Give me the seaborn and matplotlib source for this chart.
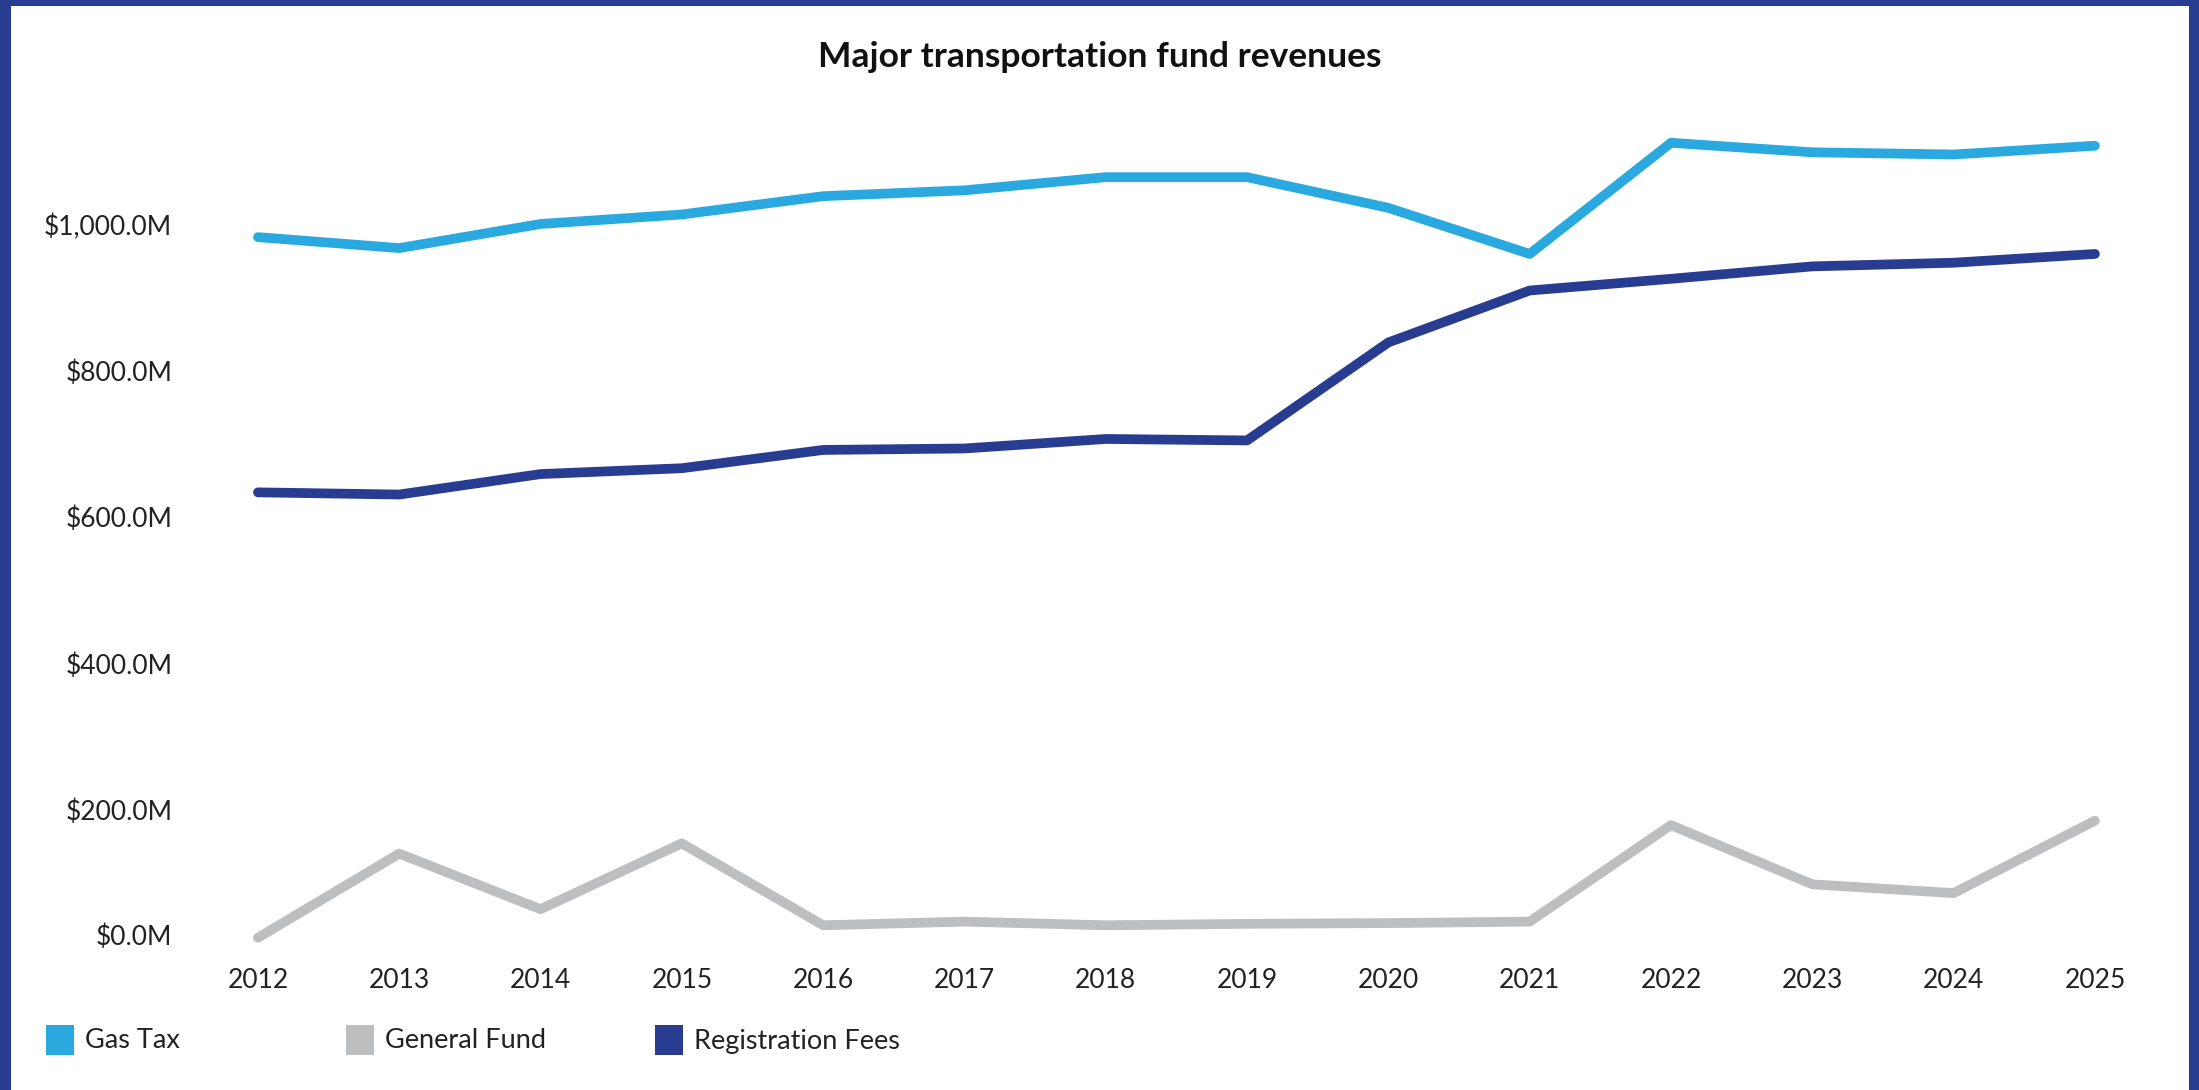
import matplotlib
matplotlib.use("Agg")
import matplotlib.pyplot as plt
import matplotlib.transforms as mtransforms
from matplotlib.patches import Rectangle
import seaborn as sns
import pandas as pd

# ---- data ----
years = list(range(2012, 2026))
gas_tax = [983, 968, 1001, 1014, 1039, 1047, 1065, 1065, 1023, 960, 1112, 1099, 1096, 1108]
general_fund = [25, 140, 64, 154, 42, 47, 42, 44, 45, 47, 179, 98, 86, 185]
registration_fees = [634, 631, 659, 667, 692, 694, 707, 705, 839, 910, 926, 943, 948, 960]
series_names = ["Gas Tax", "General Fund", "Registration Fees"]
series_colors = ["#29A9E0", "#BDBEC0", "#283D91"]
y_ticks = [0, 200, 400, 600, 800, 1000]
title = "Major transportation fund revenues"

df = pd.DataFrame({
    "Year": years * 3,
    "Revenue": gas_tax + general_fund + registration_fees,
    "Fund": [series_names[0]] * len(years) + [series_names[1]] * len(years) + [series_names[2]] * len(years),
})

sns.set_theme(style="white")
plt.rcParams["font.family"] = ["Lato", "DejaVu Sans"]

W, H = 2199, 1090
fig = plt.figure(figsize=(W / 100, H / 100), dpi=100)
fig.patch.set_facecolor("white")

ax_left, ax_right, ax_bottom_px, ax_top_px = 200, 2150, 956, 115
ax = fig.add_axes([ax_left / W, (H - ax_bottom_px) / H,
                   (ax_right - ax_left) / W, (ax_bottom_px - ax_top_px) / H])

sns.lineplot(data=df, x="Year", y="Revenue", hue="Fund", hue_order=series_names,
             palette=dict(zip(series_names, series_colors)), linewidth=7,
             legend=False, ax=ax, solid_capstyle="round", solid_joinstyle="round")

ax.set_xlim(2011.59, 2025.39)
ax.set_ylim(0, 1150)
ax.set_xticks(years)
ax.set_xticklabels([str(y) for y in years])
ax.set_yticks(y_ticks)
ax.set_yticklabels([f"${v:,.1f}M" for v in y_ticks])
ax.tick_params(axis="both", length=0, labelsize=19, colors="#222222")
ax.tick_params(axis="y", pad=20)
ax.tick_params(axis="x", pad=9)
ax.set_xlabel("")
ax.set_ylabel("")
for s in ax.spines.values():
    s.set_visible(False)
ax.grid(False)
ax.set_facecolor("white")

# Tableau-style: shift the bottom axis label up inside the pane
lbl0 = ax.get_yticklabels()[0]
lbl0.set_transform(lbl0.get_transform() + mtransforms.ScaledTranslation(0, 21 / 100, fig.dpi_scale_trans))

# title
fig.text(0.5, 1 - 57 / H, title, ha="center", va="center",
         fontsize=25.5, fontweight="bold", color="#111111")

# legend (fixed-width columns, square swatches)
leg_x = [46, 346, 655]
for x0, name, col in zip(leg_x, series_names, series_colors):
    fig.patches.append(Rectangle((x0 / W, 1 - 1055 / H), 28 / W, 30 / H,
                                 transform=fig.transFigure, facecolor=col, edgecolor="none"))
    fig.text((x0 + 39) / W, 1 - 1041 / H, name, ha="left", va="center",
             fontsize=19.5, color="#222222")

# border
border = "#283D91"
fig.patches.append(Rectangle((0, 0), 11 / W, 1, transform=fig.transFigure, facecolor=border, edgecolor="none"))
fig.patches.append(Rectangle((0, 1 - 6 / H), 1, 6 / H, transform=fig.transFigure, facecolor=border, edgecolor="none"))
fig.patches.append(Rectangle((1 - 10 / W, 0), 10 / W, 1, transform=fig.transFigure, facecolor=border, edgecolor="none"))

fig.savefig("out.png", dpi=100, facecolor="white")
